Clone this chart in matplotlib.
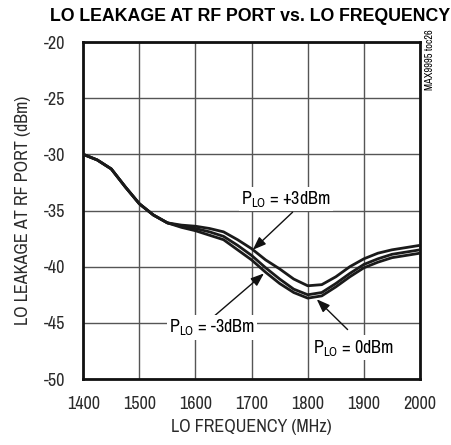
import numpy as np
import matplotlib.pyplot as plt
from matplotlib import font_manager

# LO frequency (MHz)
freq = [1400, 1425, 1450, 1475, 1500, 1525, 1550, 1575, 1600, 1625, 1650, 1675, 1700,
        1725, 1750, 1775, 1800, 1825, 1850, 1875, 1900, 1925, 1950, 1975, 2000]

# LO leakage at RF port (dBm) for each LO drive level
leak_p3 = [-30.0, -30.5, -31.3, -32.9, -34.4, -35.4, -36.1, -36.3, -36.4, -36.6, -36.9, -37.6, -38.4,
           -39.4, -40.2, -41.1, -41.7, -41.6, -40.9, -40.0, -39.3, -38.8, -38.5, -38.3, -38.1]
leak_0 = [-30.0, -30.5, -31.3, -32.9, -34.4, -35.4, -36.1, -36.4, -36.6, -36.9, -37.3, -38.1, -39.0,
          -40.1, -41.1, -42.0, -42.5, -42.3, -41.5, -40.6, -39.8, -39.3, -38.9, -38.7, -38.5]
leak_m3 = [-30.0, -30.5, -31.3, -32.9, -34.4, -35.4, -36.1, -36.5, -36.8, -37.2, -37.6, -38.5, -39.4,
           -40.5, -41.5, -42.3, -42.8, -42.6, -41.8, -40.9, -40.1, -39.6, -39.2, -39.0, -38.8]

xticks = [1400, 1500, 1600, 1700, 1800, 1900, 2000]
yticks = [-50, -45, -40, -35, -30, -25, -20]

names = {f.name for f in font_manager.fontManager.ttflist}
narrow = 'Archivo Narrow' if 'Archivo Narrow' in names else 'Liberation Sans'
plt.rcParams['font.family'] = [narrow, 'DejaVu Sans']
plt.rcParams['mathtext.fontset'] = 'custom'
plt.rcParams['mathtext.rm'] = narrow

fig = plt.figure(figsize=(4.51, 4.45), dpi=100)
ax = fig.add_axes([0.1845, 0.1483, 0.7468, 0.7573])

for series in (leak_p3, leak_0, leak_m3):
    ax.plot(freq, series, color='#1a1a1a', linewidth=2.0, solid_capstyle='butt', zorder=3)

ax.set_xlim(1400, 2000)
ax.set_ylim(-50, -20)
ax.set_xticks(xticks)
ax.set_yticks(yticks)
ax.set_xticklabels([str(v) for v in xticks])
ax.set_yticklabels([str(v) for v in yticks])
ax.tick_params(length=0, labelsize=13, colors='#2a2a2a')
ax.tick_params(axis='x', pad=12)
ax.tick_params(axis='y', pad=13)
ax.grid(True, color='#555555', linewidth=1.0)
ax.set_axisbelow(True)
for s in ax.spines.values():
    s.set_linewidth(2.0)
    s.set_color('#111111')

ax.set_xlabel('LO FREQUENCY (MHz)', fontsize=13, color='#2a2a2a', labelpad=5)
ax.set_ylabel('LO LEAKAGE AT RF PORT (dBm)', fontsize=13, color='#2a2a2a', labelpad=9)

fig.text(0.111, 0.962, 'LO LEAKAGE AT RF PORT vs. LO FREQUENCY', fontsize=12.8,
         fontweight='bold', family=['Liberation Sans', 'DejaVu Sans'], va='center', ha='left')
fig.text(0.954, 0.935, 'MAX9995 toc26', fontsize=7.5, rotation=90, va='top', ha='center')

box = dict(facecolor='white', edgecolor='none', pad=1.5)
arrow = dict(arrowstyle='-|>,head_length=0.8,head_width=0.3', color='#111111', lw=1.0,
             shrinkA=0, shrinkB=0)
ax.annotate('', xy=(1702, -38.5), xytext=(1773, -35.15), arrowprops=arrow, zorder=4)
ax.text(1761, -34.0, r'P$_{\mathregular{LO}}$ = +3dBm', fontsize=13, ha='center', va='center',
        bbox=box, zorder=5)
ax.annotate('', xy=(1722, -40.6), xytext=(1631, -44.5), arrowprops=arrow, zorder=4)
ax.text(1629, -45.4, r'P$_{\mathregular{LO}}$ = -3dBm', fontsize=13, ha='center', va='center',
        bbox=box, zorder=5)
ax.annotate('', xy=(1816, -42.9), xytext=(1871, -45.6), arrowprops=arrow, zorder=4)
ax.text(1882, -47.2, r'P$_{\mathregular{LO}}$ = 0dBm', fontsize=13, ha='center', va='center',
        bbox=box, zorder=5)

fig.savefig('out.png', dpi=100)
